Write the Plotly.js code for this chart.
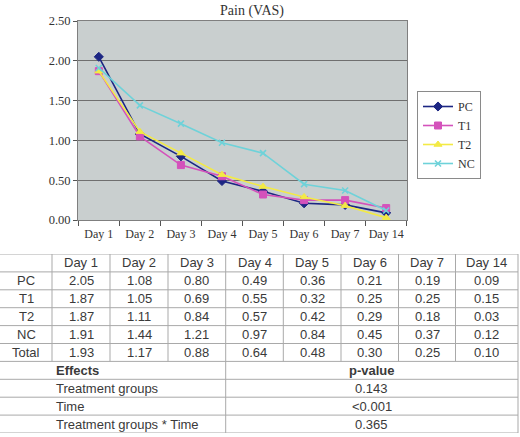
<!DOCTYPE html>
<html>
<head>
<meta charset="utf-8">
<script src="https://cdn.plot.ly/plotly-3.0.1.min.js"></script>
<style>
  html, body { margin: 0; padding: 0; background: #ffffff; }
  #chart { width: 520px; height: 437px; }
</style>
</head>
<body>
<div id="chart"></div>
<script>
// Pain (VAS) scores by group and day
const days = ['Day 1', 'Day 2', 'Day 3', 'Day 4', 'Day 5', 'Day 6', 'Day 7', 'Day 14'];
const groups = ['PC', 'T1', 'T2', 'NC'];
const pcValues = [2.05, 1.08, 0.80, 0.49, 0.36, 0.21, 0.19, 0.09];
const t1Values = [1.87, 1.05, 0.69, 0.55, 0.32, 0.25, 0.25, 0.15];
const t2Values = [1.87, 1.11, 0.84, 0.57, 0.42, 0.29, 0.18, 0.03];
const ncValues = [1.91, 1.44, 1.21, 0.97, 0.84, 0.45, 0.37, 0.12];
const totalLabel = 'Total';
const totalValues = [1.93, 1.17, 0.88, 0.64, 0.48, 0.30, 0.25, 0.10];
const yTickValues = [0, 0.5, 1.0, 1.5, 2.0, 2.5];

// Repeated-measures effects
const effectsHeader = 'Effects';
const pValueHeader = 'p-value';
const effects = ['Treatment groups', 'Time', 'Treatment groups * Time'];
const pValues = ['0.143', '<0.001', '0.365'];

const W = 520, H = 437;
const px = (x) => x / W;          // horizontal pixel -> paper fraction
const py = (y) => 1 - y / H;      // vertical pixel (from top) -> paper fraction

// ---- line chart ----
const seriesValues = [pcValues, t1Values, t2Values, ncValues];
const seriesColors = ['#1c2683', '#d452bb', '#f3ea45', '#6ed2d9'];
const seriesSymbols = ['diamond', 'square', 'triangle-up', 'x-thin-open'];
const seriesSizes = [7, 7, 7, 6];
const markerLineWidths = [1, 1, 1, 1.6];

const traces = groups.map((g, i) => ({
  type: 'scatter',
  mode: 'lines+markers',
  name: g,
  x: days,
  y: seriesValues[i],
  line: { color: seriesColors[i], width: 1.6 },
  marker: { color: seriesColors[i], symbol: seriesSymbols[i], size: seriesSizes[i],
            line: { color: seriesColors[i], width: markerLineWidths[i] } },
  xaxis: 'x', yaxis: 'y'
}));

// ---- tables, laid out on a hidden pair of axes (x in pixels, y in rows) ----
const fmt = (v) => v.toFixed(2);
const tableFont = { family: 'Liberation Sans, Arial, sans-serif', size: 13, color: '#3a3a3a' };
const borderColor = '#a9a9a9';

// column edges of the means table and of the effects table
const meansEdges = [0, 52, 110, 168, 225.7, 283.3, 341, 398.5, 455.5, 518];
const effectsEdges = [0, 225.7, 518];
const effectsTextLeft = 54;

const rowLabels = groups.concat([totalLabel]);
const allRows = [pcValues, t1Values, t2Values, ncValues, totalValues];
const nMeansRows = 1 + rowLabels.length;       // header + data rows
const nEffectsRows = 1 + effects.length;
const nRows = nMeansRows + nEffectsRows;

const annotations = [];
// grey plotting area of the line chart, under its grid lines
const shapes = [{
  type: 'rect', xref: 'x domain', yref: 'y domain', x0: 0, x1: 1, y0: 0, y1: 1,
  fillcolor: '#c9cfcf', line: { width: 0 }, layer: 'below'
}];

function cellText(text, col, row, edges, align, bold) {
  const x = align === 'left' ? effectsTextLeft : (edges[col] + edges[col + 1]) / 2;
  annotations.push({
    xref: 'x2', yref: 'y2',
    x: x, y: row + 0.5,
    xanchor: align === 'left' ? 'left' : 'center', yanchor: 'middle',
    text: bold ? '<b>' + text + '</b>' : text,
    showarrow: false,
    font: tableFont
  });
}
function hLine(row, x0, x1) {
  shapes.push({ type: 'line', xref: 'x2', yref: 'y2', x0: x0, x1: x1, y0: row, y1: row,
                line: { color: borderColor, width: 1 } });
}
function vLine(x, r0, r1) {
  shapes.push({ type: 'line', xref: 'x2', yref: 'y2', x0: x, x1: x, y0: r0, y1: r1,
                line: { color: borderColor, width: 1 } });
}

// means table: header row then one row per group and the total
days.forEach((d, j) => cellText(d, j + 1, 0, meansEdges, 'center', false));
rowLabels.forEach((lab, i) => {
  cellText(lab, 0, i + 1, meansEdges, 'center', false);
  allRows[i].forEach((v, j) => cellText(fmt(v), j + 1, i + 1, meansEdges, 'center', false));
});

// effects table
const r0 = nMeansRows;
cellText(effectsHeader, 0, r0, effectsEdges, 'left', true);
cellText(pValueHeader, 1, r0, effectsEdges, 'center', true);
effects.forEach((e, i) => {
  cellText(e, 0, r0 + 1 + i, effectsEdges, 'left', false);
  cellText(pValues[i], 1, r0 + 1 + i, effectsEdges, 'center', false);
});

// grid lines
for (let r = 0; r <= nRows; r++) hLine(r, 0, meansEdges[meansEdges.length - 1]);
meansEdges.slice(1).forEach(x => vLine(x, 0, nMeansRows));
effectsEdges.slice(1).forEach(x => vLine(x, nMeansRows, nRows));

// placeholder trace so the table axes exist
traces.push({ type: 'scatter', x: [0], y: [0], mode: 'markers', marker: { opacity: 0 },
              hoverinfo: 'skip', showlegend: false, xaxis: 'x2', yaxis: 'y2' });

const serif = 'Liberation Serif, Times New Roman, serif';
const hidden = { visible: false, fixedrange: true };

const layout = {
  width: W,
  height: H,
  margin: { l: 0, r: 0, t: 0, b: 0 },
  paper_bgcolor: '#ffffff',
  plot_bgcolor: '#ffffff',
  showlegend: true,
  title: {
    text: 'Pain (VAS)',
    font: { family: serif, size: 14, color: '#333333' },
    x: px(252), xanchor: 'center',
    y: py(10), yanchor: 'middle'
  },
  xaxis: {
    domain: [px(78), px(407)],
    type: 'category',
    tickson: 'boundaries',
    tickangle: 0,
    ticks: 'outside',
    ticklen: 5,
    tickcolor: '#555555',
    ticklabelstandoff: 3,
    showgrid: false,
    showline: true,
    mirror: true,
    linecolor: '#7f7f7f',
    linewidth: 1,
    zeroline: false,
    tickfont: { family: serif, size: 12, color: '#333333' },
    fixedrange: true
  },
  yaxis: {
    domain: [py(220), py(21)],
    range: [0, 2.5],
    tickvals: yTickValues,
    tickformat: '.2f',
    ticks: 'outside',
    ticklen: 4,
    tickcolor: '#555555',
    showgrid: true,
    gridcolor: '#6f6f6f',
    gridwidth: 1.2,
    showline: true,
    mirror: true,
    linecolor: '#7f7f7f',
    linewidth: 1,
    zeroline: false,
    tickfont: { family: serif, size: 12.5, color: '#333333' },
    fixedrange: true
  },
  xaxis2: Object.assign({ domain: [0, 1], range: [0, W], anchor: 'y2' }, hidden),
  yaxis2: Object.assign({ domain: [py(433), py(254)], range: [nRows, 0], anchor: 'x2' }, hidden),
  legend: {
    x: px(417), y: py(91),
    xanchor: 'left', yanchor: 'top',
    bgcolor: '#ffffff',
    bordercolor: '#8a8a8a',
    borderwidth: 1,
    itemwidth: 30,
    tracegroupgap: 0,
    font: { family: serif, size: 12, color: '#333333' }
  },
  annotations: annotations,
  shapes: shapes
};

Plotly.newPlot('chart', traces, layout, { displayModeBar: false, staticPlot: true });
</script>
</body>
</html>
